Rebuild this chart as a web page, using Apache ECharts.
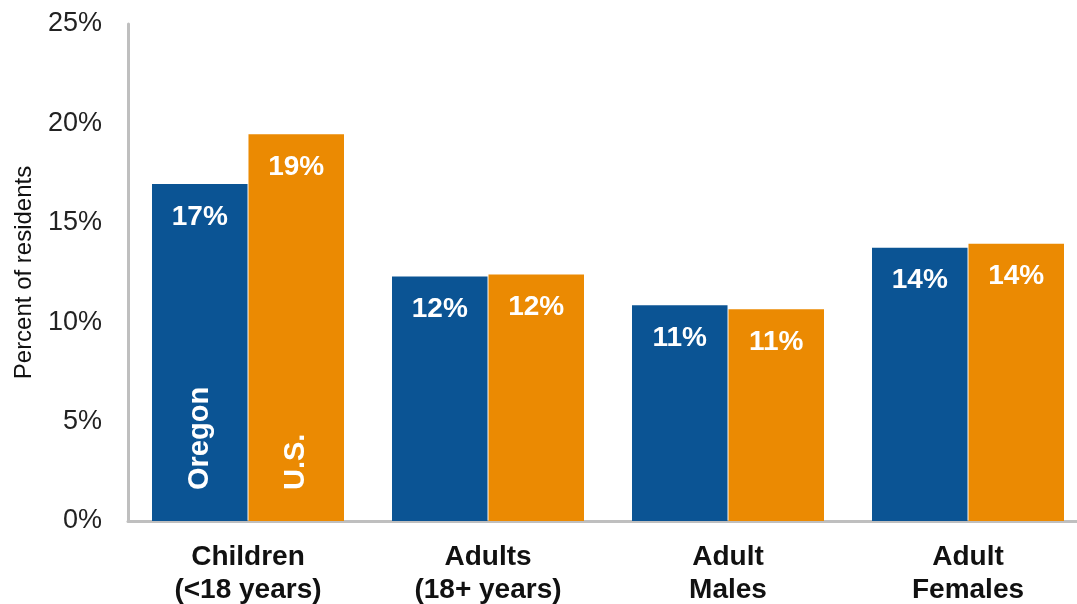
<!DOCTYPE html>
<html>
<head>
<meta charset="utf-8">
<script src="https://cdn.jsdelivr.net/npm/echarts@6/dist/echarts.min.js"></script>
<style>
  html, body { margin: 0; padding: 0; background: #ffffff; }
  #chart { width: 1077px; height: 604px; }
</style>
</head>
<body>
<div id="chart"></div>
<script>
// Share of residents by group, Oregon vs. U.S.
const categories = ['Children\n(<18 years)', 'Adults\n(18+ years)', 'Adult\nMales', 'Adult\nFemales'];
const seriesNames = ['Oregon', 'U.S.'];
const oregonValues = [16.95, 12.3, 10.85, 13.75];
const usValues = [19.45, 12.4, 10.65, 13.95];
const yMin = 0;
const yMax = 25;
const yStep = 5;

const colors = ['#0b5494', '#eb8a02'];
const FONT = 'Liberation Sans, Arial, sans-serif';
const BAR_GAP = '1%';
const CAT_GAP = '20%';

const chart = echarts.init(document.getElementById('chart'), null, { renderer: 'canvas' });

const valueSeries = [oregonValues, usValues].map((vals, i) => ({
  name: seriesNames[i],
  type: 'bar',
  xAxisIndex: 0,
  data: vals,
  barGap: BAR_GAP,
  barCategoryGap: CAT_GAP,
  itemStyle: { color: colors[i] },
  label: {
    show: true,
    position: 'insideTop',
    distance: 19,
    color: '#ffffff',
    fontFamily: FONT,
    fontWeight: 'bold',
    fontSize: 28,
    formatter: p => Math.round(p.value) + '%'
  },
  z: 2
}));

// Transparent twins on a hidden axis carry the rotated series names inside the first pair of bars
const nameSeries = [oregonValues, usValues].map((vals, i) => ({
  name: seriesNames[i] + ' name',
  type: 'bar',
  xAxisIndex: 1,
  data: vals,
  barGap: BAR_GAP,
  barCategoryGap: CAT_GAP,
  itemStyle: { color: 'rgba(0,0,0,0)' },
  silent: true,
  label: {
    show: true,
    position: 'insideBottom',
    distance: 31,
    rotate: 90,
    align: 'left',
    verticalAlign: 'middle',
    color: '#ffffff',
    fontFamily: FONT,
    fontWeight: 'bold',
    fontSize: 29,
    formatter: p => (p.dataIndex === 0 ? seriesNames[i] : '')
  },
  z: 3
}));

chart.setOption({
  animation: false,
  grid: {
    left: 128,
    top: 24,
    bottom: 83,
    width: 960,
    containLabel: false,
    outerBoundsMode: 'none'
  },
  xAxis: [
    {
      type: 'category',
      data: categories,
      axisLine: { show: true, lineStyle: { color: '#bfbfbf', width: 3 } },
      axisTick: { show: false },
      axisLabel: {
        interval: 0,
        margin: 20,
        color: '#111111',
        fontFamily: FONT,
        fontWeight: 'bold',
        fontSize: 28,
        lineHeight: 33
      },
      splitLine: { show: false }
    },
    {
      type: 'category',
      data: categories,
      show: false
    }
  ],
  yAxis: {
    type: 'value',
    min: yMin,
    max: yMax,
    interval: yStep,
    name: 'Percent of residents',
    nameLocation: 'middle',
    nameRotate: 90,
    nameGap: 92,
    nameTextStyle: { color: '#111111', fontFamily: FONT, fontSize: 24 },
    axisLine: { show: true, lineStyle: { color: '#bfbfbf', width: 3 } },
    axisTick: { show: false },
    splitLine: { show: false },
    axisLabel: {
      margin: 26,
      color: '#222222',
      fontFamily: FONT,
      fontSize: 27,
      formatter: v => v + '%'
    }
  },
  series: valueSeries.concat(nameSeries)
});
</script>
</body>
</html>
